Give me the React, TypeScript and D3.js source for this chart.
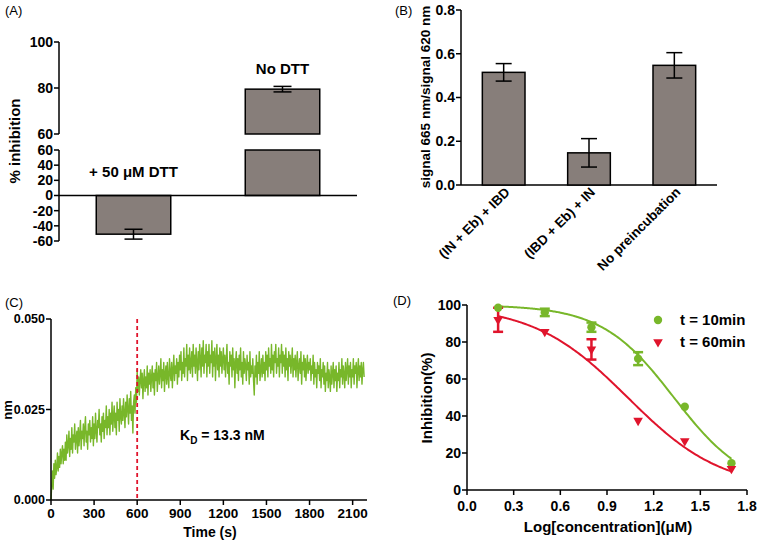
import React from "react";
import * as d3 from "d3";

// Panel A
const aCats = ["+ 50 μM DTT", "No DTT"];
const aValues = [-51, 79.5];
const aErr = [6.5, 1.2];
const aUpperTicks = [60, 80, 100];
const aLowerTicks = [-60, -40, -20, 0, 20, 40, 60];

// Panel B
const bCats = ["(IN + Eb) + IBD", "(IBD + Eb) + IN", "No preincubation"];
const bValues = [0.515, 0.147, 0.547];
const bErr = [0.04, 0.065, 0.058];
const bTicks = [0, 0.2, 0.4, 0.6, 0.8];

// Panel C (signal in 0.001 nm, one value every 5 s from 0 to 2180 s)
const cSignal = [
  0, 4, 8, 3, 10, 6, 11, 7, 9, 13, 8, 12, 9, 14, 10, 13, 15, 10, 14, 11,
  16, 11, 18, 13, 15, 19, 12, 17, 14, 20, 13, 18, 16, 21, 14, 17, 19, 13, 20, 15,
  18, 22, 14, 19, 17, 21, 15, 20, 23, 16, 19, 14, 21, 18, 22, 16, 20, 17, 23, 15,
  21, 17, 24, 19, 16, 22, 20, 25, 18, 21, 16, 23, 19, 24, 17, 22, 20, 26, 18, 23,
  20, 25, 18, 24, 21, 27, 19, 23, 26, 20, 24, 18, 27, 22, 25, 19, 28, 23, 21, 26,
  22, 28, 24, 20, 27, 23, 29, 25, 21, 28, 24, 30, 22, 26, 18.5, 27, 29, 24, 31, 27,
  36, 30, 34, 29, 33, 36, 31, 35, 28, 33, 36, 30, 34, 31, 37, 29, 35, 32, 36, 30,
  34, 37, 31, 35, 29, 36, 33, 38, 30, 34, 37, 32, 35, 39, 31, 36, 33, 38, 30, 35,
  37, 32, 38, 34, 31, 39, 35, 33, 38, 31, 36, 40, 33, 37, 35, 39, 32, 38, 34, 40,
  36, 41, 33, 38, 35, 42, 34, 39, 37, 43, 33, 40, 36, 42, 35, 38, 41, 34, 43, 37,
  40, 35, 42, 38, 33, 41, 36, 43, 39, 34, 42, 37, 44, 35, 40, 38, 43, 34, 41, 37,
  43, 35, 40, 38, 44, 34, 41, 37, 42, 33, 39, 43, 36, 40, 34, 42, 37, 41, 35, 39,
  42, 36, 40, 34, 39, 43, 35, 38, 32, 41, 37, 40, 34, 42, 36, 39, 31, 38, 41, 35,
  39, 33, 40, 36, 42, 34, 38, 32, 41, 35, 39, 37, 33, 40, 36, 38, 32, 41, 34, 37,
  35, 39, 33, 29, 37, 34, 40, 32, 38, 35, 41, 33, 36, 39, 34, 40, 35, 38, 33, 41,
  36, 40, 34, 42, 37, 39, 35, 43, 36, 40, 34, 41, 38, 43, 35, 39, 37, 42, 34, 40,
  38, 43, 35, 41, 37, 40, 34, 42, 36, 39, 33, 41, 37, 40, 35, 38, 42, 34, 39, 36,
  40, 34, 38, 41, 33, 37, 39, 35, 41, 32, 38, 36, 40, 34, 39, 33, 37, 40, 35, 38,
  36, 39, 33, 37, 35, 40, 32, 38, 34, 36, 31, 38, 35, 37, 33, 39, 31, 36, 34, 38,
  32, 37, 30, 35, 33, 38, 31, 36, 34, 30, 37, 32, 35, 38, 31, 36, 33, 37, 30, 35,
  33, 38, 31, 36, 34, 39, 32, 37, 35, 31, 38, 33, 36, 39, 32, 37, 34, 38, 31, 36,
  34, 39, 32, 37, 35, 38, 31, 36, 39, 33, 37, 34, 38, 32, 36, 38, 34,
];
const cStep = 5;
const cXTicks = [0, 300, 600, 900, 1200, 1500, 1800, 2100];
const cYTicks = [0, 0.025, 0.05];

// Panel D
const dX = [0.2, 0.5, 0.8, 1.1, 1.4, 1.7];
const d10 = [98.5, 96, 88, 71, 45, 14.5];
const d10Err = [0, 2, 2.5, 3.5, 0, 0];
const d60 = [92, 85.5, 76, 37.5, 26.5, 11.5];
const d60Err = [6.5, 0, 5.5, 0, 0, 0];
// 4-parameter logistic fits: [top, bottom, logIC50, hill]
const fit10 = [100, 0, 1.33, 1.87];
const fit60 = [100, 0, 1.033, 1.43];
const dXTicks = [0, 0.3, 0.6, 0.9, 1.2, 1.5, 1.8];
const dYTicks = [0, 20, 40, 60, 80, 100];

const FONT = "'Liberation Sans', Arial, sans-serif";
const BAR = "#877e7a";
const GREEN = "#78b72a";
const RED = "#e0142c";

function PanelA() {
  const x0 = 59;
  const yU = d3.scaleLinear().domain([60, 100]).range([134, 42]);
  const yL = d3.scaleLinear().domain([-60, 60]).range([241, 150]);
  const xb = d3.scaleBand().domain(aCats).range([59, 357]).paddingInner(0.5).paddingOuter(0.25);
  const bw = xb.bandwidth();
  return (
    <g fontFamily={FONT}>
      <text x={5} y={15} fontSize={13}>(A)</text>
      <line x1={x0} x2={x0} y1={yU(100)} y2={yU(60)} stroke="#000" strokeWidth={1.5} />
      <line x1={x0} x2={x0} y1={yL(60)} y2={yL(-60)} stroke="#000" strokeWidth={1.5} />
      {aUpperTicks.map((t) => (
        <g key={"u" + t}>
          <line x1={x0 - 5} x2={x0} y1={yU(t)} y2={yU(t)} stroke="#000" strokeWidth={1.5} />
          <text x={x0 - 6} y={yU(t)} dy="0.35em" textAnchor="end" fontSize={14} fontWeight="bold">{t}</text>
        </g>
      ))}
      {aLowerTicks.map((t) => (
        <g key={"l" + t}>
          <line x1={x0 - 5} x2={x0} y1={yL(t)} y2={yL(t)} stroke="#000" strokeWidth={1.5} />
          <text x={x0 - 6} y={yL(t)} dy="0.35em" textAnchor="end" fontSize={14} fontWeight="bold">{t}</text>
        </g>
      ))}
      {aCats.map((c, i) => {
        const v = aValues[i];
        const x = xb(c)!;
        const cx = x + bw / 2;
        if (v < 0) {
          return (
            <g key={c}>
              <rect x={x} y={yL(0)} width={bw} height={yL(v) - yL(0)} fill={BAR} stroke="#000" strokeWidth={1.5} />
              <line x1={cx} x2={cx} y1={yL(v + aErr[i])} y2={yL(v - aErr[i])} stroke="#000" strokeWidth={1.5} />
              <line x1={cx - 9} x2={cx + 9} y1={yL(v + aErr[i])} y2={yL(v + aErr[i])} stroke="#000" strokeWidth={1.5} />
              <line x1={cx - 9} x2={cx + 9} y1={yL(v - aErr[i])} y2={yL(v - aErr[i])} stroke="#000" strokeWidth={1.5} />
              <text x={cx} y={177} textAnchor="middle" fontSize={15} fontWeight="bold">{c}</text>
            </g>
          );
        }
        return (
          <g key={c}>
            <rect x={x} y={yU(v)} width={bw} height={yU(60) - yU(v)} fill={BAR} stroke="#000" strokeWidth={1.5} />
            <rect x={x} y={yL(60)} width={bw} height={yL(0) - yL(60)} fill={BAR} stroke="#000" strokeWidth={1.5} />
            <line x1={cx} x2={cx} y1={yU(v + aErr[i])} y2={yU(v - aErr[i])} stroke="#000" strokeWidth={1.5} />
            <line x1={cx - 9} x2={cx + 9} y1={yU(v + aErr[i])} y2={yU(v + aErr[i])} stroke="#000" strokeWidth={1.5} />
            <line x1={cx - 9} x2={cx + 9} y1={yU(v - aErr[i])} y2={yU(v - aErr[i])} stroke="#000" strokeWidth={1.5} />
            <text x={cx} y={74} textAnchor="middle" fontSize={15} fontWeight="bold">{c}</text>
          </g>
        );
      })}
      <line x1={x0} x2={357} y1={yL(0)} y2={yL(0)} stroke="#000" strokeWidth={1.5} />
      <text transform={`translate(20,141) rotate(-90)`} textAnchor="middle" fontSize={15} fontWeight="bold">% inhibition</text>
    </g>
  );
}

function PanelB() {
  const x0 = 461;
  const y = d3.scaleLinear().domain([0, 0.8]).range([185, 10]);
  const xb = d3.scaleBand().domain(bCats).range([461, 717]).paddingInner(0.5).paddingOuter(0.25);
  const bw = xb.bandwidth();
  return (
    <g fontFamily={FONT}>
      <text x={395} y={15} fontSize={13}>(B)</text>
      <line x1={x0} x2={x0} y1={y(0.8)} y2={y(0)} stroke="#000" strokeWidth={1.5} />
      <line x1={x0} x2={717} y1={y(0)} y2={y(0)} stroke="#000" strokeWidth={1.5} />
      {bTicks.map((t) => (
        <g key={t}>
          <line x1={x0 - 5} x2={x0} y1={y(t)} y2={y(t)} stroke="#000" strokeWidth={1.5} />
          <text x={x0 - 6} y={y(t)} dy="0.35em" textAnchor="end" fontSize={14} fontWeight="bold">{t.toFixed(1)}</text>
        </g>
      ))}
      {bCats.map((c, i) => {
        const v = bValues[i];
        const x = xb(c)!;
        const cx = x + bw / 2;
        return (
          <g key={c}>
            <rect x={x} y={y(v)} width={bw} height={y(0) - y(v)} fill={BAR} stroke="#000" strokeWidth={1.5} />
            <line x1={cx} x2={cx} y1={y(v + bErr[i])} y2={y(v - bErr[i])} stroke="#000" strokeWidth={1.5} />
            <line x1={cx - 8} x2={cx + 8} y1={y(v + bErr[i])} y2={y(v + bErr[i])} stroke="#000" strokeWidth={1.5} />
            <line x1={cx - 8} x2={cx + 8} y1={y(v - bErr[i])} y2={y(v - bErr[i])} stroke="#000" strokeWidth={1.5} />
            <text transform={`translate(${cx + 7},${y(0) + 8}) rotate(-45)`} textAnchor="end" fontSize={13.5} fontWeight="bold">{c}</text>
          </g>
        );
      })}
      <text transform={`translate(430,97) rotate(-90)`} textAnchor="middle" fontSize={13.5} fontWeight="bold">signal 665 nm/signal 620 nm</text>
    </g>
  );
}

function PanelC() {
  const x = d3.scaleLinear().domain([0, 2200]).range([51, 367]);
  const y = d3.scaleLinear().domain([0, 0.05]).range([500, 319]);
  const line = d3
    .line<number>()
    .x((_, i) => x(i * cStep))
    .y((d) => y(d / 1000));
  return (
    <g fontFamily={FONT}>
      <text x={5} y={307} fontSize={13}>(C)</text>
      <path d={line(cSignal) || ""} fill="none" stroke={GREEN} strokeWidth={1.4} strokeLinejoin="round" />
      <line x1={x(600)} x2={x(600)} y1={y(0.05)} y2={y(0)} stroke={RED} strokeWidth={1.8} strokeDasharray="4,3" />
      <line x1={51} x2={51} y1={y(0.05)} y2={y(0)} stroke="#000" strokeWidth={1.5} />
      <line x1={51} x2={367} y1={y(0)} y2={y(0)} stroke="#000" strokeWidth={1.5} />
      {cYTicks.map((t) => (
        <g key={t}>
          <line x1={46} x2={51} y1={y(t)} y2={y(t)} stroke="#000" strokeWidth={1.5} />
          <text x={45} y={y(t)} dy="0.35em" textAnchor="end" fontSize={12.5} fontWeight="bold">{t.toFixed(3)}</text>
        </g>
      ))}
      {cXTicks.map((t) => (
        <g key={t}>
          <line x1={x(t)} x2={x(t)} y1={500} y2={505} stroke="#000" strokeWidth={1.5} />
          <text x={x(t)} y={518} textAnchor="middle" fontSize={13.5} fontWeight="bold">{t}</text>
        </g>
      ))}
      <text x={210} y={537} textAnchor="middle" fontSize={14} fontWeight="bold">Time (s)</text>
      <text transform={`translate(12,410) rotate(-90)`} textAnchor="middle" fontSize={13} fontWeight="bold">nm</text>
      <text x={180} y={440} fontSize={14} fontWeight="bold">
        K<tspan fontSize={10} dy={4}>D</tspan><tspan dy={-4}> = 13.3 nM</tspan>
      </text>
    </g>
  );
}

function PanelD() {
  const x = d3.scaleLinear().domain([0, 1.8]).range([467, 747]);
  const y = d3.scaleLinear().domain([0, 100]).range([490, 305]);
  const logistic = (p: number[]) => (v: number) => p[1] + (p[0] - p[1]) / (1 + Math.pow(10, (v - p[2]) * p[3]));
  const xs = d3.range(0.2, 1.7001, 0.01);
  const mk = (p: number[]) =>
    d3
      .line<number>()
      .x((v) => x(v))
      .y((v) => y(logistic(p)(v)))
      .curve(d3.curveMonotoneX)(xs) || "";
  const tri = d3.symbol(d3.symbolTriangle, 40)() || "";
  const err = (vals: number[], errs: number[], color: string) =>
    dX.map((xv, i) =>
      errs[i] > 0 ? (
        <g key={i} stroke={color} strokeWidth={2.5}>
          <line x1={x(xv)} x2={x(xv)} y1={y(vals[i] + errs[i])} y2={y(vals[i] - errs[i])} />
          <line x1={x(xv) - 5} x2={x(xv) + 5} y1={y(vals[i] + errs[i])} y2={y(vals[i] + errs[i])} />
          <line x1={x(xv) - 5} x2={x(xv) + 5} y1={y(vals[i] - errs[i])} y2={y(vals[i] - errs[i])} />
        </g>
      ) : null
    );
  return (
    <g fontFamily={FONT}>
      <text x={393} y={305} fontSize={13}>(D)</text>
      <path d={mk(fit10)} fill="none" stroke={GREEN} strokeWidth={2} />
      <path d={mk(fit60)} fill="none" stroke={RED} strokeWidth={2} />
      {err(d10, d10Err, GREEN)}
      {err(d60, d60Err, RED)}
      {dX.map((xv, i) => (
        <circle key={"g" + i} cx={x(xv)} cy={y(d10[i])} r={4.2} fill={GREEN} />
      ))}
      {dX.map((xv, i) => (
        <path key={"r" + i} d={tri} transform={`translate(${x(xv)},${y(d60[i])}) rotate(180)`} fill={RED} />
      ))}
      <line x1={467} x2={467} y1={y(100)} y2={y(0)} stroke="#000" strokeWidth={1.5} />
      <line x1={467} x2={747} y1={y(0)} y2={y(0)} stroke="#000" strokeWidth={1.5} />
      {dYTicks.map((t) => (
        <g key={t}>
          <line x1={462} x2={467} y1={y(t)} y2={y(t)} stroke="#000" strokeWidth={1.5} />
          <text x={461} y={y(t)} dy="0.35em" textAnchor="end" fontSize={14} fontWeight="bold">{t}</text>
        </g>
      ))}
      {dXTicks.map((t) => (
        <g key={t}>
          <line x1={x(t)} x2={x(t)} y1={490} y2={495} stroke="#000" strokeWidth={1.5} />
          <text x={x(t)} y={511} textAnchor="middle" fontSize={14} fontWeight="bold">{t.toFixed(1)}</text>
        </g>
      ))}
      <circle cx={658} cy={320} r={4.2} fill={GREEN} />
      <text x={680} y={320} dy="0.35em" fontSize={15} fontWeight="bold">t = 10min</text>
      <path d={tri} transform={`translate(658,342) rotate(180)`} fill={RED} />
      <text x={680} y={342} dy="0.35em" fontSize={15} fontWeight="bold">t = 60min</text>
      <text transform={`translate(432,398) rotate(-90)`} textAnchor="middle" fontSize={15} fontWeight="bold">Inhibition(%)</text>
      <text x={608} y={532} textAnchor="middle" fontSize={15} fontWeight="bold">Log[concentration](μM)</text>
    </g>
  );
}

export default function App() {
  return (
    <svg width={759} height={545} style={{ position: "absolute", left: 0, top: 0, background: "#fff" }}>
      <rect width={759} height={545} fill="#fff" />
      <PanelA />
      <PanelB />
      <PanelC />
      <PanelD />
    </svg>
  );
}
